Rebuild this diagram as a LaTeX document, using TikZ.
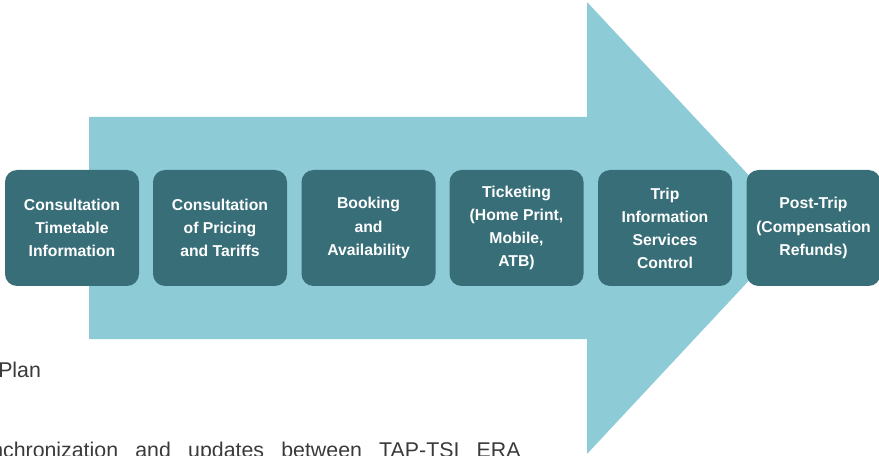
\documentclass[tikz,border=0pt]{standalone}
\usepackage{fontspec}
\setmainfont{Liberation Sans}
\usepackage{tikz}
\usetikzlibrary{positioning}
\definecolor{stagebox}{HTML}{386E78}
\definecolor{flowarrow}{HTML}{8DCCD7}
\definecolor{bodytext}{HTML}{3A3A3A}
\tikzset{stg/.style={fill=stagebox,rounded corners=9pt,minimum width=100.5pt,minimum height=87pt,
  text=white,align=center,inner sep=2pt,font=\fontsize{11.8pt}{17.3pt}\selectfont\bfseries}}

\begin{document}
\begin{tikzpicture}[x=0.75pt,y=-0.75pt,txt/.style={text=bodytext,inner sep=0pt,font=\fontsize{16pt}{19pt}\selectfont}]
  \clip (0,0) rectangle (879,456);
  % big arrow behind the stages
  \fill[flowarrow] (89,117) -- (587,117) -- (587,2) -- (798,228) -- (587,454) -- (587,339) -- (89,339) -- cycle;

  \node[stg] (cti) at (72,228) {Consultation\\Timetable\\Information};
  \node[stg] (cpt) at (220,228) {Consultation\\of Pricing\\and Tariffs};
  \node[stg] (bka) at (368.5,228) {Booking\\and\\Availability};
  \node[stg] (tkt) at (516.5,228) {Ticketing\\(Home Print,\\Mobile,\\ATB)};
  \node[stg] (tis) at (665,228) {Trip\\Information\\Services\\Control};
  \node[stg] (ptr) at (813.5,228) {Post-Trip\\(Compensation\\Refunds)};

  % cut off lines of the page text
  \node[txt,anchor=base west] (plan) at (-2,377) {Plan};
  \node[txt,anchor=base west] (sync) at (-9,457) {\makebox[397pt][s]{nchronization and updates between TAP-TSI ERA}};
 \end{tikzpicture}
\end{document}
